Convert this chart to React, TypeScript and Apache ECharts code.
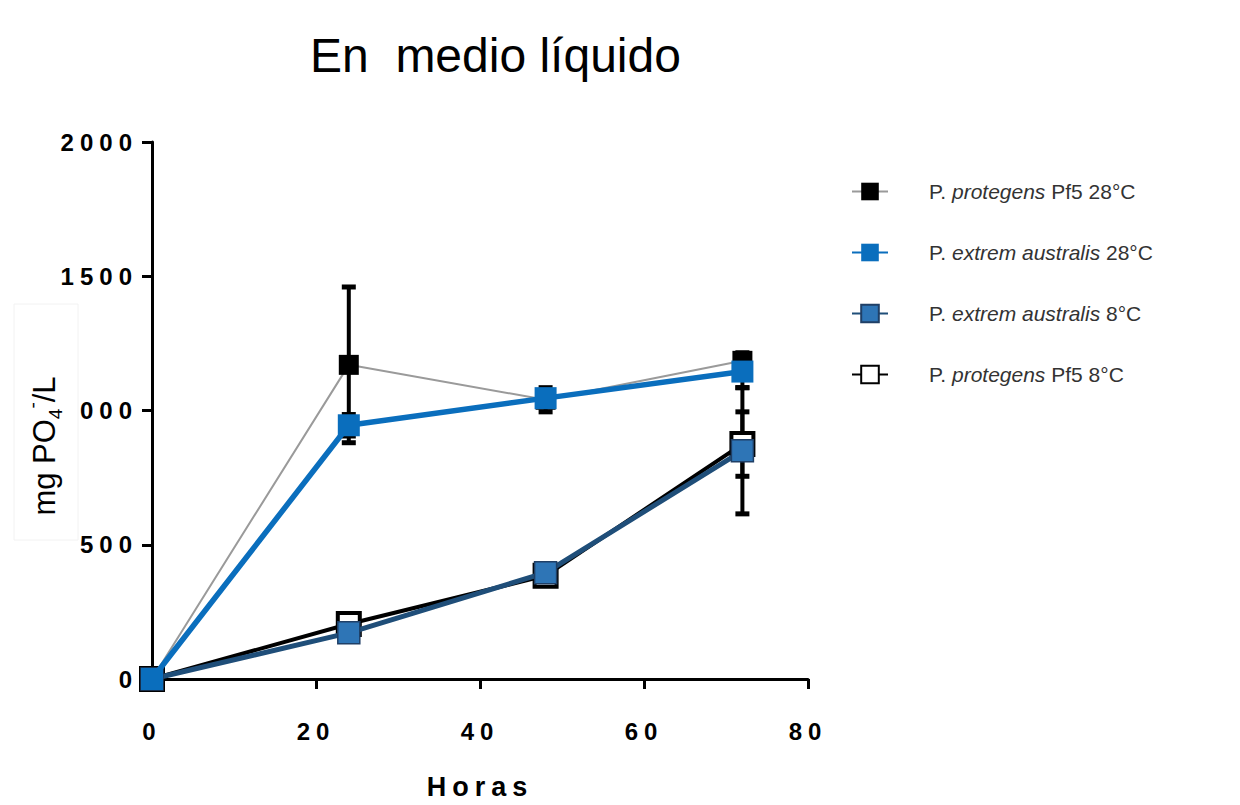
import React, { useEffect, useRef } from "react";
import * as echarts from "echarts";

const hours = [0, 24, 48, 72];
const seriesNames = [
  "P. protegens Pf5 28°C",
  "P. extrem australis 28°C",
  "P. extrem australis 8°C",
  "P. protegens Pf5 8°C",
];
const legendRich: Record<string, string> = {
  "P. protegens Pf5 28°C": "P. {i|protegens} Pf5 28°C",
  "P. extrem australis 28°C": "P. {i|extrem australis} 28°C",
  "P. extrem australis 8°C": "P. {i|extrem australis} 8°C",
  "P. protegens Pf5 8°C": "P. {i|protegens} Pf5 8°C",
};
const protegens28 = [0, 1170, 1040, 1185];
const protegens28Err = [0, 290, 45, 30];
const extrem28 = [0, 945, 1046, 1145];
const extrem28Err = [0, 40, 20, 60];
const extrem8 = [0, 172, 396, 850];
const extrem8Err = [0, 20, 20, 235];
const protegens8 = [0, 205, 385, 875];
const protegens8Err = [0, 25, 25, 120];

const FONT = "'Liberation Sans', Arial, sans-serif";
const AXFONT = "AxisBold, 'Liberation Sans', Arial, sans-serif";

function errorSeries(vals: number[], errs: number[], z: number) {
  return {
    type: "custom",
    z,
    silent: true,
    data: hours.map((h, i) => [h, vals[i] - errs[i], vals[i] + errs[i]]),
    renderItem: (params: any, api: any) => {
      const x = api.value(0);
      const lo = api.coord([x, api.value(1)]);
      const hi = api.coord([x, api.value(2)]);
      if (Math.abs(hi[1] - lo[1]) < 1) return null;
      const w = 7;
      return {
        type: "group",
        children: [
          { type: "line", shape: { x1: lo[0], y1: lo[1], x2: hi[0], y2: hi[1] }, style: { stroke: "#000", lineWidth: 4 } },
          { type: "line", shape: { x1: hi[0] - w, y1: hi[1], x2: hi[0] + w, y2: hi[1] }, style: { stroke: "#000", lineWidth: 5 } },
          { type: "line", shape: { x1: lo[0] - w, y1: lo[1], x2: lo[0] + w, y2: lo[1] }, style: { stroke: "#000", lineWidth: 5 } },
        ],
      };
    },
  };
}

function toPts(vals: number[]) {
  return hours.map((h, i) => [h, vals[i]]);
}

const css = `
#chart-host text[style*="AxisBold"], #chart-host text[font-family*="AxisBold"] { letter-spacing: 6px; }
`;

export default function App() {
  const ref = useRef<HTMLDivElement>(null);
  useEffect(() => {
    if (!ref.current) return;
    const chart = echarts.init(ref.current, undefined, { renderer: "svg" });
    const axisLabelStyle = { color: "#000", fontWeight: "bold", fontSize: 24, fontFamily: AXFONT };
    chart.setOption({
      animation: false,
      backgroundColor: "#fff",
      title: {
        text: "En  medio líquido",
        left: 305,
        top: 26,
        textStyle: { fontSize: 48, fontWeight: "normal", color: "#000", fontFamily: FONT },
      },
      grid: { left: 152, top: 142, right: 432, bottom: 108, containLabel: false },
      legend: {
        orient: "vertical",
        left: 846,
        top: 176,
        itemWidth: 36,
        itemHeight: 22,
        itemGap: 40,
        data: seriesNames,
        formatter: (name: string) => legendRich[name],
        textStyle: {
          fontSize: 21,
          color: "#333",
          fontFamily: FONT,
          padding: [0, 0, 0, 36],
          rich: { i: { fontStyle: "italic", fontSize: 21, color: "#333", fontFamily: FONT } },
        },
      },
      xAxis: {
        type: "value",
        min: 0,
        max: 80,
        interval: 20,
        name: "Horas",
        nameLocation: "middle",
        nameGap: 94,
        nameTextStyle: { color: "#000", fontWeight: "bold", fontSize: 27, fontFamily: AXFONT },
        axisLine: { show: true, lineStyle: { color: "#000", width: 3 } },
        axisTick: { show: true, length: 10, lineStyle: { color: "#000", width: 3 } },
        axisLabel: { ...axisLabelStyle, margin: 40 },
        splitLine: { show: false },
      },
      yAxis: {
        type: "value",
        min: 0,
        max: 2000,
        interval: 500,
        axisLine: { show: true, lineStyle: { color: "#000", width: 3 } },
        axisTick: { show: true, length: 10, lineStyle: { color: "#000", width: 3 } },
        axisLabel: { ...axisLabelStyle, margin: 14, formatter: (v: number) => String(v) },
        splitLine: { show: false },
      },
      graphic: [
        {
          type: "rect",
          z: 100,
          shape: { x: 14, y: 304, width: 64, height: 236 },
          style: { fill: "#fff", stroke: "#f2f2f2", lineWidth: 1 },
        },
        {
          type: "text",
          z: 101,
          x: 44,
          y: 446,
          rotation: Math.PI / 2,
          style: {
            text: "{a|mg PO}{sub|4}{sup|-}{a|/L}",
            align: "center",
            verticalAlign: "middle",
            rich: {
              a: { fontSize: 31, fontFamily: FONT, color: "#000", lineHeight: 42 },
              sub: { fontSize: 19, fontFamily: FONT, color: "#000", verticalAlign: "bottom", lineHeight: 42 },
              sup: { fontSize: 19, fontFamily: FONT, color: "#000", verticalAlign: "top", lineHeight: 42 },
            },
          },
        },
      ],
      series: [
        errorSeries(protegens28, protegens28Err, 1),
        errorSeries(extrem28, extrem28Err, 1),
        errorSeries(extrem8, extrem8Err, 1),
        errorSeries(protegens8, protegens8Err, 1),
        {
          name: seriesNames[3],
          type: "line",
          z: 2,
          data: toPts(protegens8),
          symbol: "rect",
          symbolSize: 22,
          lineStyle: { color: "#000", width: 4 },
          itemStyle: { color: "#fff", borderColor: "#000", borderWidth: 4 },
        },
        {
          name: seriesNames[0],
          type: "line",
          z: 3,
          data: toPts(protegens28),
          symbol: "rect",
          symbolSize: 20,
          lineStyle: { color: "#9a9a9a", width: 2 },
          itemStyle: { color: "#000" },
        },
        {
          name: seriesNames[2],
          type: "line",
          z: 4,
          data: toPts(extrem8),
          symbol: "rect",
          symbolSize: 22,
          lineStyle: { color: "#1f4e79", width: 5 },
          itemStyle: { color: "#2e75b6", borderColor: "#1f3f66", borderWidth: 1.5 },
        },
        {
          name: seriesNames[1],
          type: "line",
          z: 5,
          data: toPts(extrem28),
          symbol: "rect",
          symbolSize: 22,
          lineStyle: { color: "#0a6ebd", width: 5.5 },
          itemStyle: { color: "#0a6ebd" },
        },
      ],
    });
    return () => chart.dispose();
  }, []);
  return (
    <>
      <style>{css}</style>
      <div
        id="chart-host"
        ref={ref}
        style={{ position: "fixed", left: 0, top: 0, width: 1240, height: 805, background: "#fff" }}
      />
    </>
  );
}
